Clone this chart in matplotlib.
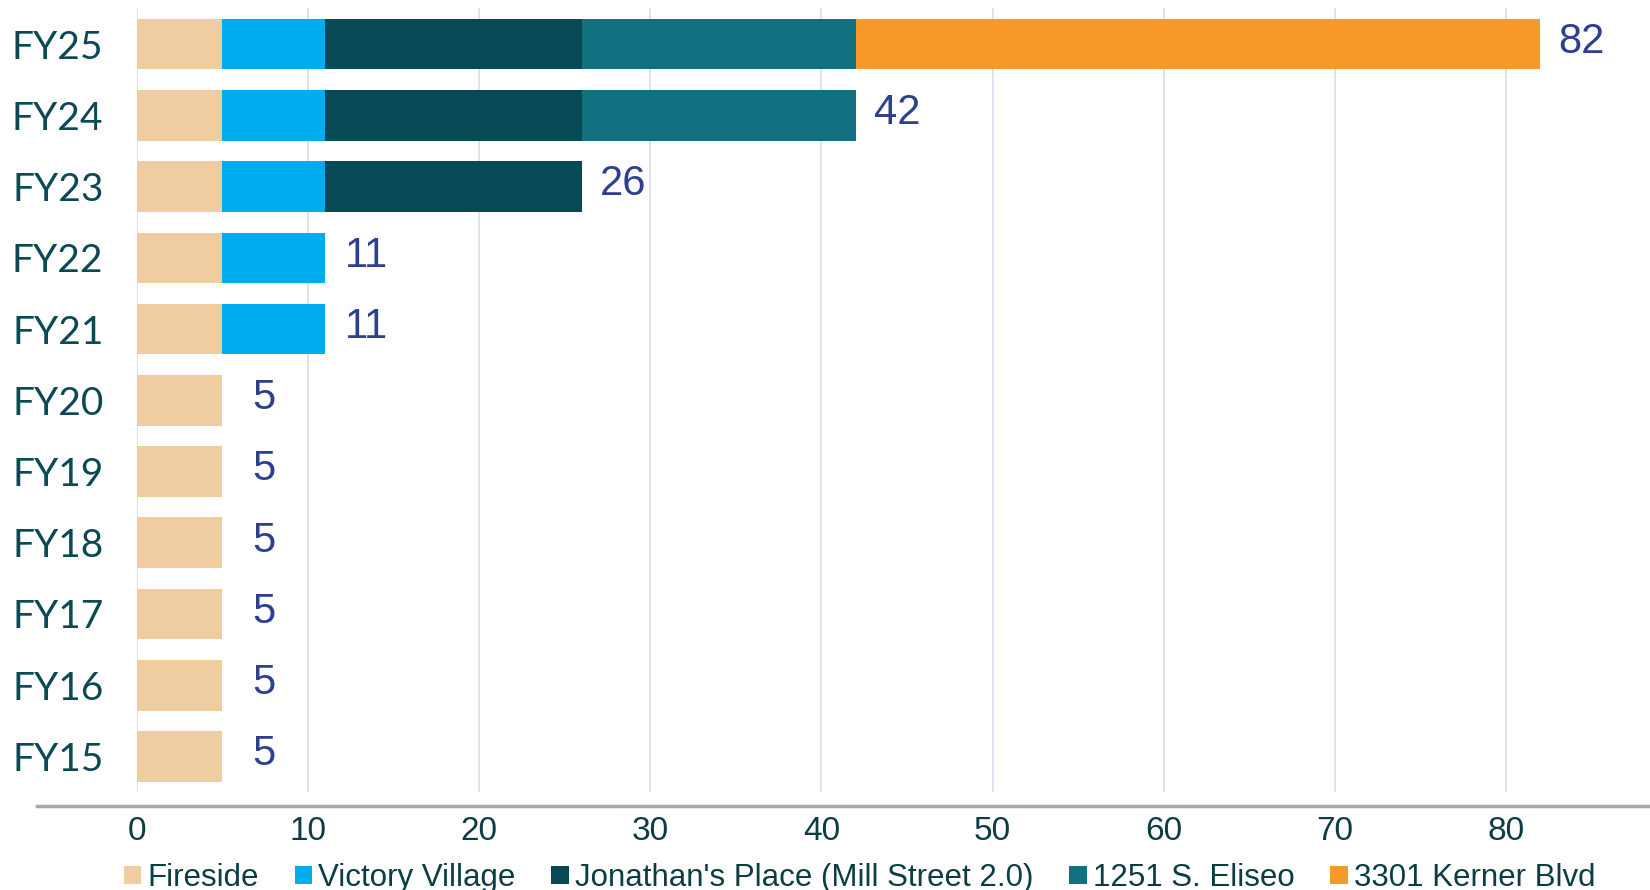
import numpy as np
from matplotlib import pyplot as plt
from matplotlib.lines import Line2D

years = ['FY15', 'FY16', 'FY17', 'FY18', 'FY19', 'FY20', 'FY21', 'FY22', 'FY23', 'FY24', 'FY25']
fireside = [5, 5, 5, 5, 5, 5, 5, 5, 5, 5, 5]
victory_village = [0, 0, 0, 0, 0, 0, 6, 6, 6, 6, 6]
jonathans_place = [0, 0, 0, 0, 0, 0, 0, 0, 15, 15, 15]
eliseo = [0, 0, 0, 0, 0, 0, 0, 0, 0, 16, 16]
kerner = [0, 0, 0, 0, 0, 0, 0, 0, 0, 0, 40]

names = ['Fireside', 'Victory Village', "Jonathan's Place (Mill Street 2.0)",
         '1251 S. Eliseo', '3301 Kerner Blvd']
colors = ['#f0cda0', '#00aeef', '#074a55', '#11707f', '#f89a2a']

series = [fireside, victory_village, jonathans_place, eliseo, kerner]

fig = plt.figure(figsize=(16.5, 8.9), dpi=100)
ax = fig.add_axes([0.0829, 0.110, 0.9171, 0.8805])

y = np.arange(len(years))
left = np.zeros(len(years))
for vals, name, c in zip(series, names, colors):
    vals = np.array(vals, dtype=float)
    ax.barh(y, vals, left=left, height=0.71, color=c, label=name, zorder=2)
    left += vals

for yi, total in zip(y, left):
    ax.text(total + 2.4, yi + 0.03, '%d' % total, ha='center', va='center',
            fontsize=30, color='#2e3f8f', family='Liberation Sans')

ax.set_xlim(0, 88.4)
ax.set_ylim(-0.5, len(years) - 0.5)
ax.set_xticks(np.arange(0, 90, 10))
ax.set_yticks(y)
ax.set_yticklabels(years, family='Lato', fontsize=28, color='#0b4a55')
for lab in ax.get_xticklabels():
    lab.set_family('Liberation Sans')
    lab.set_fontsize(24)
    lab.set_color('#0b3d45')

ax.tick_params(axis='y', length=0, pad=24)
ax.tick_params(axis='x', length=0, pad=17)
for s in ax.spines.values():
    s.set_visible(False)
ax.grid(axis='x', color='#d9dcf0', lw=1.2, zorder=0)
ax.set_axisbelow(True)

# gray base line under the plot
fig.add_artist(Line2D([0.0223, 1.0], [0.0946, 0.0946], color='#a6a6a6', lw=2.5))

leg = fig.legend(loc='lower center', bbox_to_anchor=(0.521, -0.035), ncol=5,
                 frameon=False, handlelength=0.55, handleheight=0.55,
                 handletextpad=0.2, columnspacing=1.15,
                 prop={'family': 'Liberation Sans', 'size': 22.5})
for t in leg.get_texts():
    t.set_color('#0b3d45')

plt.savefig('out.png')
